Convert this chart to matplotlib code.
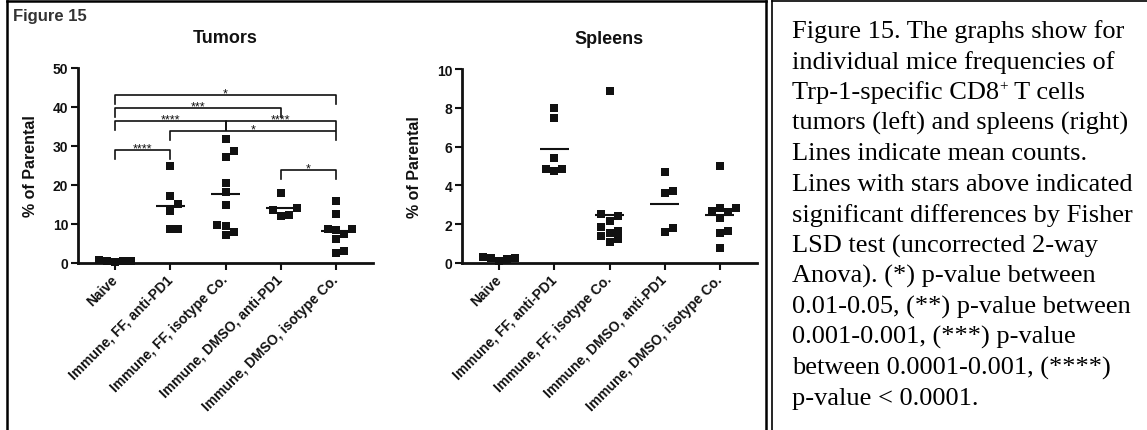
import matplotlib.pyplot as plt
import numpy as np

# data
groups = ['Naive', 'Immune, FF, anti-PD1', 'Immune, FF, isotype Co.',
          'Immune, DMSO, anti-PD1', 'Immune, DMSO, isotype Co.']

tumor_naive = [0.6, 0.4, 0.2, 0.5, 0.7]
tumor_ff_pd1 = [25.0, 17.3, 15.2, 13.4, 8.6, 8.7]
tumor_ff_iso = [31.7, 28.7, 27.3, 20.5, 18.3, 15.0, 9.6, 7.2, 7.9, 9.8]
tumor_dmso_pd1 = [18.0, 13.7, 12.0, 12.2, 14.0]
tumor_dmso_iso = [16.0, 12.6, 8.7, 8.7, 7.4, 6.1, 2.5, 3.2, 8.5]

spleen_naive = [0.3, 0.25, 0.1, 0.2, 0.28]
spleen_ff_pd1 = [8.0, 7.5, 5.4, 4.85, 4.75, 4.85]
spleen_ff_iso = [8.85, 2.18, 2.52, 2.4, 1.67, 1.84, 1.55, 1.41, 1.1, 1.24]
spleen_dmso_pd1 = [4.67, 3.69, 3.59, 1.58, 1.79]
spleen_dmso_iso = [5.02, 2.84, 2.84, 2.61, 2.3, 1.67, 1.55, 0.77, 2.7]

# (group a, group b, height, stars)
tumor_brackets = [(0, 1, 28.9, '****'), (3, 4, 23.9, '*'), (1, 4, 33.8, '*'),
                  (0, 2, 36.4, '****'), (2, 4, 36.4, '****'),
                  (0, 3, 39.8, '***'), (0, 4, 43.0, '*')]

# each line: (text, superscript, rest)
caption = [('Figure 15. The graphs show for', '', ''),
           ('individual mice frequencies of', '', ''),
           ('Trp-1-specific CD8', '+', ' T cells'),
           ('tumors (left) and spleens (right)', '', ''),
           ('Lines indicate mean counts.', '', ''),
           ('Lines with stars above indicated', '', ''),
           ('significant differences by Fisher', '', ''),
           ('LSD test (uncorrected 2-way', '', ''),
           ('Anova). (*) p-value between', '', ''),
           ('0.01-0.05, (**) p-value between', '', ''),
           ('0.001-0.001, (***) p-value', '', ''),
           ('between 0.0001-0.001, (****)', '', ''),
           ('p-value < 0.0001.', '', '')]

plt.rcParams['font.family'] = ['Liberation Sans', 'DejaVu Sans']

W, H = 1147, 431
fig = plt.figure(figsize=(W / 100, H / 100), dpi=100)
ink = '#111111'


def swarm(vals, px_y, px_x=55.0, size=8.0):
    # spread overlapping points sideways, like a scatter dot plot
    vals = np.asarray(vals, float)
    offs = np.zeros(len(vals))
    done = []
    for i in np.argsort(vals):
        cand = [0]
        for n in range(1, 10):
            cand += [n, -n]
        for k in cand:
            dx = k * size
            ok = True
            for j in done:
                if abs((vals[i] - vals[j]) * px_y) < size and abs(dx - offs[j] * px_x) < size:
                    ok = False
                    break
            if ok:
                break
        offs[i] = k * size / px_x
        done.append(i)
    return offs


def panel(rect, title, series, ymax, yticks, brackets):
    ax = fig.add_axes(rect)
    ax.set_xlim(-0.68, 4.68)
    ax.set_ylim(0, ymax)
    px_y = rect[3] * H / ymax
    for i, vals in enumerate(series):
        offs = swarm(vals, px_y)
        ax.scatter(i + offs, vals, marker='s', s=28, color=ink, linewidths=0,
                   clip_on=False, zorder=3)
        ax.hlines(np.mean(vals), i - 0.27, i + 0.27, color=ink, lw=1.5, zorder=3)
    leg = ymax * 0.046
    for a, b, h, stars in brackets:
        ax.plot([a, a, b, b], [h - leg, h, h, h - leg], color=ink, lw=1.2,
                clip_on=False, zorder=2)
        ax.text((a + b) / 2, h - 0.3, stars, ha='center', va='baseline',
                fontsize=9, color=ink)
    ax.spines['top'].set_visible(False)
    ax.spines['right'].set_visible(False)
    for s in ('left', 'bottom'):
        ax.spines[s].set_linewidth(2)
        ax.spines[s].set_color(ink)
    ax.set_yticks(yticks)
    ax.set_xticks(range(len(groups)))
    ax.set_xticklabels(groups, rotation=45, ha='right', va='center',
                       rotation_mode='anchor', fontsize=10, fontweight='bold')
    ax.tick_params(axis='both', length=5, width=1.5, color=ink, labelcolor=ink)
    ax.tick_params(axis='x', pad=5)
    ax.tick_params(axis='y', labelsize=10, pad=2)
    for t in ax.get_yticklabels():
        t.set_fontweight('bold')
    ax.set_ylabel('% of Parental', fontsize=11.5, fontweight='bold', color=ink)
    ax.yaxis.set_label_coords(-0.135, 0.5)
    ax.set_title(title, fontsize=13, fontweight='bold', color=ink, pad=19)
    return ax


panel([78 / W, 1 - 264 / H, 295 / W, 195 / H], 'Tumors',
      [tumor_naive, tumor_ff_pd1, tumor_ff_iso, tumor_dmso_pd1, tumor_dmso_iso],
      50, [0, 10, 20, 30, 40, 50], tumor_brackets)
panel([462 / W, 1 - 264 / H, 295 / W, 194 / H], 'Spleens',
      [spleen_naive, spleen_ff_pd1, spleen_ff_iso, spleen_dmso_pd1, spleen_dmso_iso],
      10, [0, 2, 4, 6, 8, 10], [])

fig.text(13 / W, 1 - 21 / H, 'Figure 15', fontsize=12, fontweight='bold',
         color='#333333', va='baseline')

# caption, with a small raised "+" where needed
renderer = fig.canvas.get_renderer()
for i, (txt, sup, rest) in enumerate(caption):
    y = 1 - (38 + 30.6 * i) / H
    t = fig.text(792 / W, y, txt, fontsize=19, family='Liberation Serif',
                 va='baseline', color='black')
    if sup:
        x1 = t.get_window_extent(renderer).x1
        s = fig.text(x1 / W, y + 9 / H, sup, fontsize=11, family='Liberation Serif',
                     va='baseline', color='black')
        x2 = s.get_window_extent(renderer).x1
        fig.text(x2 / W, y, rest, fontsize=19, family='Liberation Serif',
                 va='baseline', color='black')

# table borders
def fline(x0, y0, x1, y1, lw):
    fig.add_artist(plt.Line2D([x0 / W, x1 / W], [1 - y0 / H, 1 - y1 / H],
                              transform=fig.transFigure, color='black', lw=lw))

fline(7, 2, 766, 2, 1.8)
fline(7, 2, 7, H, 1.8)
fline(766, 2, 766, H, 1.8)
fline(772, 2, W, 2, 1.2)
fline(772, 2, 772, H, 1.2)

fig.savefig('out.png', dpi=100)
